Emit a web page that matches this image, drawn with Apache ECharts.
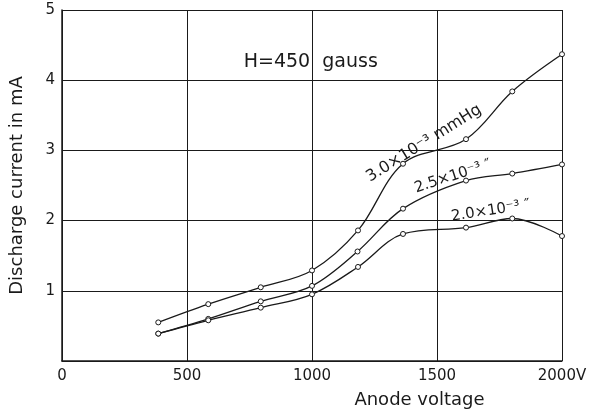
<!DOCTYPE html>
<html>
<head>
<meta charset="utf-8">
<script src="https://cdn.jsdelivr.net/npm/echarts@6/dist/echarts.min.js"></script>
<style>
  html, body { margin: 0; padding: 0; background: #fff; }
  #chart { width: 597px; height: 414px; }
</style>
</head>
<body>
<div id="chart"></div>
<script>
// anode voltage (V) vs discharge current (mA)
const series30 = [[385, 0.55], [585, 0.81], [795, 1.05], [1000, 1.29], [1184, 1.86], [1364, 2.81], [1616, 3.16], [1801, 3.84], [2000, 4.37]];
const series25 = [[385, 0.39], [585, 0.60], [795, 0.85], [1000, 1.07], [1182, 1.56], [1364, 2.17], [1616, 2.57], [1801, 2.67], [2000, 2.80]];
const series20 = [[385, 0.39], [585, 0.58], [795, 0.76], [1000, 0.95], [1184, 1.34], [1364, 1.81], [1616, 1.90], [1801, 2.03], [2000, 1.78]];

const seriesNames = ["3.0×10⁻³ mmHg", "2.5×10⁻³ ″", "2.0×10⁻³ ″"];
const xTicks = [0, 500, 1000, 1500, 2000];
const xTickLabels = ["0", "500", "1000", "1500", "2000V"];
const yTickLabels = ["", "1", "2", "3", "4", "5"];
const fieldLabel = "H=450  gauss";
const xName = "Anode voltage";
const yName = "Discharge current in mA";

const INK = "#1a1a1a";
const FONT = "DejaVu Sans";

const chart = echarts.init(document.getElementById("chart"), undefined, { renderer: "canvas" });

function lineSeries(name, data) {
  return {
    name: name,
    type: "line",
    data: data,
    smooth: 0.35,
    symbol: "circle",
    symbolSize: 5,
    itemStyle: { color: "#fff", borderColor: INK, borderWidth: 1 },
    lineStyle: { color: INK, width: 1.3 },
    z: 3,
  };
}

chart.setOption({
  animation: false,
  backgroundColor: "#fff",
  grid: { left: 59, right: 35, top: 10, bottom: 52 },
  xAxis: {
    type: "value",
    min: 0,
    max: 2000,
    interval: 500,
    name: xName,
    nameLocation: "middle",
    nameGap: 30,
    nameTextStyle: { color: INK, fontFamily: FONT, fontSize: 18, padding: [0, 0, 0, 215] },
    axisLine: { show: true, lineStyle: { color: INK, width: 1.5 } },
    axisTick: { show: false },
    axisLabel: {
      color: INK,
      fontFamily: FONT,
      fontSize: 15,
      margin: 8,
      formatter: (v) => xTickLabels[xTicks.indexOf(v)] ?? "",
    },
    splitLine: { show: true, lineStyle: { color: INK, width: 1 } },
  },
  yAxis: {
    type: "value",
    min: 0,
    max: 5,
    interval: 1,
    name: yName,
    nameLocation: "middle",
    nameGap: 36,
    nameTextStyle: { color: INK, fontFamily: FONT, fontSize: 18 },
    axisLine: { show: true, lineStyle: { color: INK, width: 1.5 } },
    axisTick: { show: false },
    axisLabel: {
      color: INK,
      fontFamily: FONT,
      fontSize: 15,
      margin: 7,
      formatter: (v) => yTickLabels[v] ?? "",
    },
    splitLine: { show: true, lineStyle: { color: INK, width: 1 } },
  },
  series: [
    lineSeries(seriesNames[0], series30),
    lineSeries(seriesNames[1], series25),
    lineSeries(seriesNames[2], series20),
  ],
});

// annotations placed in data space, then converted to pixels
const notes = [
  { text: fieldLabel, at: [995, 4.26], rot: 0, size: 19 },
  { text: seriesNames[0], at: [1448, 3.1], rot: 32, size: 16 },
  { text: seriesNames[1], at: [1564, 2.63], rot: 18, size: 15 },
  { text: seriesNames[2], at: [1715, 2.14], rot: 9, size: 15 },
];

chart.setOption({
  graphic: notes.map((n) => {
    const p = chart.convertToPixel({ gridIndex: 0 }, n.at);
    return {
      type: "text",
      x: p[0],
      y: p[1],
      rotation: (n.rot * Math.PI) / 180,
      z: 10,
      style: {
        text: n.text,
        fill: INK,
        font: `${n.size}px "${FONT}"`,
        align: "center",
        verticalAlign: "middle",
      },
    };
  }),
});
</script>
</body>
</html>
